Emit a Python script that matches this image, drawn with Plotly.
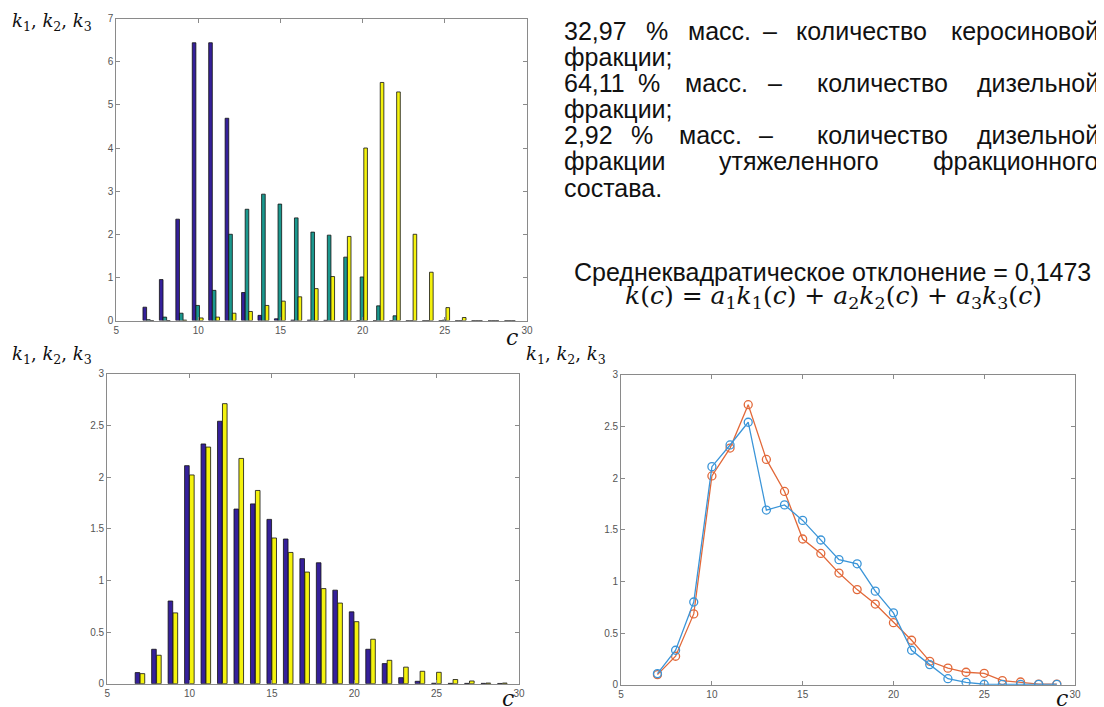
import plotly.graph_objects as go

W, H = 1104, 707

# ---------------- data ----------------
c_vals = list(range(7, 30))

# top chart: individual fraction distributions
k1 = [0.31, 0.95, 2.35, 6.44, 6.44, 4.69, 0.65, 0.12, 0.04, 0.01, 0.01, 0.005,
      0, 0, 0, 0, 0, 0, 0, 0, 0, 0, 0]
k2 = [0.02, 0.08, 0.17, 0.35, 0.70, 2.00, 2.58, 2.93, 2.70, 2.38, 2.05, 1.98,
      1.47, 1.01, 0.34, 0.11, 0, 0, 0.01, 0, 0, 0, 0]
k3 = [0, 0, 0.01, 0.06, 0.08, 0.17, 0.21, 0.35, 0.45, 0.55, 0.74, 1.02,
      1.95, 4.00, 5.52, 5.30, 2.00, 1.12, 0.30, 0.07, 0, 0, 0]

# bottom charts: experimental vs computed
k_exp = [0.107, 0.333, 0.80, 2.11, 2.32, 2.54, 1.69, 1.74, 1.59, 1.40, 1.21, 1.17,
         0.905, 0.695, 0.333, 0.194, 0.058, 0.023, 0.004, 0.003, 0.003, 0.003, 0.002]
k_calc = [0.097, 0.275, 0.685, 2.02, 2.29, 2.71, 2.18, 1.87, 1.41, 1.27, 1.08, 0.92,
          0.78, 0.60, 0.43, 0.226, 0.16, 0.12, 0.11, 0.04, 0.026, 0.006, 0.006]

x_ticks = [5, 10, 15, 20, 25, 30]
y_ticks_top = [0, 1, 2, 3, 4, 5, 6, 7]
y_ticks_bot = [0, 0.5, 1, 1.5, 2, 2.5, 3]

text_lines = [
    (["32,97", "%", "масс.", "–", "количество", "керосиновой"], [563, 645, 687, 762, 795, None]),
    (["фракции;"], [563]),
    (["64,11", "%", "масс.", "–", "количество", "дизельной"], [563, 637, 684, 767, 816, None]),
    (["фракции;"], [563]),
    (["2,92", "%", "масс.", "–", "количество", "дизельной"], [563, 630, 678, 758, 816, None]),
    (["фракции", "утяжеленного", "фракционного"], [563, 718, None]),
    (["состава."], [563]),
]
line_y = [31, 57, 83, 109, 135, 161, 188]

# ---------------- colours ----------------
C_BLUE = "#35209a"
C_TEAL = "#1b988e"
C_YEL = "#f4f20e"
C_LBLUE = "#3b95d8"
C_ORANGE = "#e2693a"

fig = go.Figure()

# map target-picture pixels to paper coordinates
def X(r):
    return ((r - 11) / 0.99) / W

def Y(r):
    return 1 - ((r - 14.4) / 0.98) / H

# top chart bars
for vals, col, off in [(k1, C_BLUE, -0.37), (k2, C_TEAL, -0.15), (k3, C_YEL, 0.07)]:
    fig.add_trace(go.Bar(x=c_vals, y=vals, width=0.22, offset=off,
                         marker=dict(color=col, line=dict(color="#111", width=0.8)),
                         xaxis="x", yaxis="y", showlegend=False))

# bottom-left bars
for vals, col, off in [(k_exp, C_BLUE, -0.3), (k_calc, C_YEL, 0.0)]:
    fig.add_trace(go.Bar(x=c_vals, y=vals, width=0.28, offset=off,
                         marker=dict(color=col, line=dict(color="#111", width=0.8)),
                         xaxis="x2", yaxis="y2", showlegend=False))

# bottom-right lines
for vals, col in [(k_calc, C_ORANGE), (k_exp, C_LBLUE)]:
    fig.add_trace(go.Scatter(x=c_vals, y=vals, mode="lines+markers",
                             line=dict(color=col, width=1.3),
                             marker=dict(symbol="circle-open", size=8, color=col,
                                         line=dict(width=1.3, color=col)),
                             xaxis="x3", yaxis="y3", showlegend=False))

axis_common = dict(showline=True, mirror="ticks", ticks="inside", ticklen=4,
                   linecolor="#8a8a8a", tickcolor="#8a8a8a", linewidth=1,
                   showgrid=False, zeroline=False,
                   tickfont=dict(family="Liberation Sans, Arial", size=10, color="#555"))

def xaxis(dom, anchor):
    return dict(domain=dom, anchor=anchor, range=[5, 30], tickvals=x_ticks, **axis_common)

def yaxis(dom, anchor, rng, tv):
    return dict(domain=dom, anchor=anchor, range=rng, tickvals=tv, **axis_common)

fig.update_layout(
    width=W, height=H,
    margin=dict(l=0, r=0, t=0, b=0),
    paper_bgcolor="white", plot_bgcolor="white",
    barmode="overlay",
    xaxis=xaxis([X(116), X(526)], "y"),
    yaxis=yaxis([Y(320), Y(19)], "x", [0, 7], y_ticks_top),
    xaxis2=xaxis([X(107), X(518)], "y2"),
    yaxis2=yaxis([Y(682), Y(373)], "x2", [0, 3], y_ticks_bot),
    xaxis3=xaxis([X(620), X(1073)], "y3"),
    yaxis3=yaxis([Y(683), Y(374)], "x3", [0, 3], y_ticks_bot),
)

ann = []
klabel = "<i>k</i><sub>1</sub>, <i>k</i><sub>2</sub>, <i>k</i><sub>3</sub>"
for (x, y) in [(52, 22), (52, 354), (565, 354)]:
    ann.append(dict(x=X(x), y=Y(y), xref="paper", yref="paper", text=klabel,
                    showarrow=False, xanchor="center", yanchor="middle",
                    font=dict(family="DejaVu Serif", size=18, color="#111")))
for (x, y) in [(511, 337), (507, 697), (1060, 697)]:
    ann.append(dict(x=X(x), y=Y(y), xref="paper", yref="paper", text="<i>c</i>",
                    showarrow=False, xanchor="center", yanchor="middle",
                    font=dict(family="DejaVu Serif", size=22, color="#111")))

tfont = dict(family="Liberation Sans, Arial", size=25, color="#111")
for (words, xs), y in zip(text_lines, line_y):
    for w, x in zip(words, xs):
        if x is None:
            ann.append(dict(x=X(1099), y=Y(y), xref="paper", yref="paper", text=w,
                            showarrow=False, xanchor="right", yanchor="middle", font=tfont))
        else:
            ann.append(dict(x=X(x - 2), y=Y(y), xref="paper", yref="paper", text=w,
                            showarrow=False, xanchor="left", yanchor="middle", font=tfont))

ann.append(dict(x=X(831), y=Y(272), xref="paper", yref="paper",
                text="Среднеквадратическое отклонение = 0,1473",
                showarrow=False, xanchor="center", yanchor="middle",
                font=dict(family="Liberation Sans, Arial", size=25, color="#111")))
formula = ("<i>k</i>(<i>c</i>) = <i>a</i><sub>1</sub><i>k</i><sub>1</sub>(<i>c</i>) + "
           "<i>a</i><sub>2</sub><i>k</i><sub>2</sub>(<i>c</i>) + "
           "<i>a</i><sub>3</sub><i>k</i><sub>3</sub>(<i>c</i>)")
ann.append(dict(x=X(832), y=Y(297), xref="paper", yref="paper", text=formula,
                showarrow=False, xanchor="center", yanchor="middle",
                font=dict(family="DejaVu Serif", size=25, color="#111")))

fig.update_layout(annotations=ann)
fig.write_html("out.html")
